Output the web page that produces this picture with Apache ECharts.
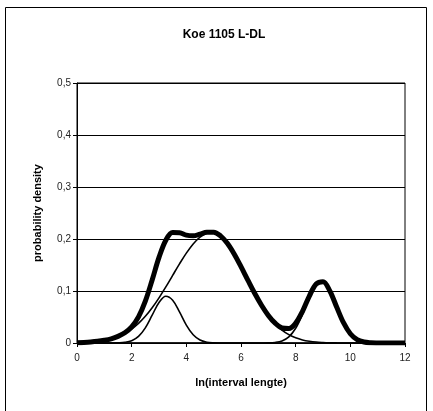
<!DOCTYPE html>
<html>
<head>
<meta charset="utf-8">
<script src="https://cdn.jsdelivr.net/npm/echarts@6/dist/echarts.min.js"></script>
<style>
  html, body { margin: 0; padding: 0; background: #fff; }
  #chart { width: 433px; height: 411px; }
</style>
</head>
<body>
<div id="chart"></div>
<script>
// ln(interval length) sample positions
const lnInterval = [
  0, 0.25, 0.5, 0.75, 1, 1.25, 1.5, 1.75, 2, 2.25, 2.5, 2.75, 3, 3.25, 3.5, 3.75,
  4, 4.25, 4.5, 4.75, 5, 5.25, 5.5, 5.75, 6, 6.25, 6.5, 6.75, 7, 7.25, 7.5, 7.75,
  8, 8.25, 8.5, 8.75, 9, 9.25, 9.5, 9.75, 10, 10.25, 10.5, 10.75, 11, 11.25, 11.5, 11.75, 12
];

// short-interval component (peak near 3.3)
const shortComponent = [
  0, 0, 0, 0, 0, 0, 0.0003, 0.0012, 0.0043, 0.0126, 0.0292, 0.0535, 0.0778, 0.0899, 0.0823, 0.0598,
  0.0345, 0.0158, 0.0057, 0.0016, 0.0004, 0.0001, 0, 0, 0, 0, 0, 0, 0, 0, 0, 0,
  0, 0, 0, 0, 0, 0, 0, 0, 0, 0, 0, 0, 0, 0, 0, 0, 0
];

// broad component (peak near 4.9)
const broadComponent = [
  0.0006, 0.0011, 0.0019, 0.0032, 0.0052, 0.0081, 0.0125, 0.0186, 0.0269, 0.0377, 0.0513, 0.0677, 0.0868, 0.1078, 0.1301, 0.1522,
  0.1729, 0.1905, 0.2037, 0.2113, 0.2127, 0.2060, 0.1917, 0.1712, 0.1468, 0.1209, 0.0956, 0.0726, 0.0529, 0.0370, 0.0249, 0.0160,
  0.0099, 0.0059, 0.0034, 0.0018, 0.0010, 0.0005, 0.0002, 0.0001, 0, 0, 0, 0, 0, 0, 0, 0, 0
];

// long-interval component (peak near 8.9)
const longComponent = [
  0, 0, 0, 0, 0, 0, 0, 0, 0, 0, 0, 0, 0, 0, 0, 0,
  0, 0, 0, 0, 0, 0, 0, 0, 0, 0, 0, 0.0001, 0.0002, 0.0011, 0.0040, 0.0118,
  0.0283, 0.0550, 0.0869, 0.1118, 0.1170, 0.0996, 0.0690, 0.0389, 0.0178, 0.0066, 0.0020, 0.0005, 0.0001, 0, 0, 0, 0
];

// fitted mixture density
const mixtureDensity = [
  0.0006, 0.0011, 0.0019, 0.0032, 0.0052, 0.0081, 0.0128, 0.0198, 0.0312, 0.0503, 0.0805, 0.1212, 0.1646, 0.1977, 0.2124, 0.2120,
  0.2074, 0.2063, 0.2094, 0.2129, 0.2131, 0.2061, 0.1917, 0.1712, 0.1468, 0.1209, 0.0956, 0.0727, 0.0531, 0.0381, 0.0289, 0.0278,
  0.0382, 0.0609, 0.0903, 0.1136, 0.1180, 0.1001, 0.0692, 0.0390, 0.0178, 0.0066, 0.0020, 0.0005, 0.0001, 0, 0, 0, 0
];

const xTicks = { min: 0, max: 12, step: 2 };
const yTicks = { min: 0, max: 0.5, step: 0.1 };

const pairs = (ys) => lnInterval.map((x, i) => [x, ys[i]]);
const commaDecimal = (v) => String(+v.toFixed(1)).replace('.', ',');

const FONT = '"Liberation Sans", Arial, sans-serif';

const chart = echarts.init(document.getElementById('chart'), null, { renderer: 'canvas' });

const thin = (name, ys) => ({
  name, type: 'line', data: pairs(ys), smooth: 0.35, showSymbol: false, z: 3,
  lineStyle: { color: '#000', width: 1.6 }
});

chart.setOption({
  animation: false,
  backgroundColor: '#fff',
  graphic: [{
    type: 'rect', silent: true, z: -1,
    shape: { x: 5.5, y: 7.5, width: 421, height: 420 },
    style: { fill: 'none', stroke: '#000', lineWidth: 1 }
  }],
  title: {
    text: 'Koe 1105 L-DL',
    left: 219, top: 24, textAlign: 'center',
    textStyle: { fontFamily: FONT, fontSize: 12, fontWeight: 'bold', color: '#000' }
  },
  grid: {
    left: 77, right: 28, top: 83, bottom: 68,
    show: true, borderColor: '#000', borderWidth: 1, backgroundColor: '#fff'
  },
  xAxis: {
    type: 'value', min: xTicks.min, max: xTicks.max, interval: xTicks.step,
    name: 'ln(interval lengte)', nameLocation: 'middle', nameGap: 34,
    nameTextStyle: { fontFamily: FONT, fontSize: 11, fontWeight: 'bold', color: '#000' },
    axisLine: { onZero: false, lineStyle: { color: '#000', width: 1 } },
    axisTick: { show: true, inside: false, length: 4, lineStyle: { color: '#000' } },
    axisLabel: { fontFamily: FONT, fontSize: 10, color: '#222', margin: 10 },
    splitLine: { show: false }
  },
  yAxis: {
    type: 'value', min: yTicks.min, max: yTicks.max, interval: yTicks.step,
    name: 'probability density', nameLocation: 'middle', nameGap: 34, nameRotate: 90,
    nameTextStyle: { fontFamily: FONT, fontSize: 11, fontWeight: 'bold', color: '#000' },
    axisLine: { show: true, lineStyle: { color: '#000', width: 1 } },
    axisTick: { show: true, inside: false, length: 4, lineStyle: { color: '#000' } },
    axisLabel: { fontFamily: FONT, fontSize: 10, color: '#222', margin: 6, formatter: commaDecimal },
    splitLine: { show: true, lineStyle: { color: '#000', width: 1 } }
  },
  series: [
    thin('short', shortComponent),
    thin('broad', broadComponent),
    thin('long', longComponent),
    {
      name: 'mixture', type: 'line', data: pairs(mixtureDensity), smooth: 0.35,
      showSymbol: false, z: 4,
      lineStyle: { color: '#000', width: 5 }
    }
  ]
});
</script>
</body>
</html>
